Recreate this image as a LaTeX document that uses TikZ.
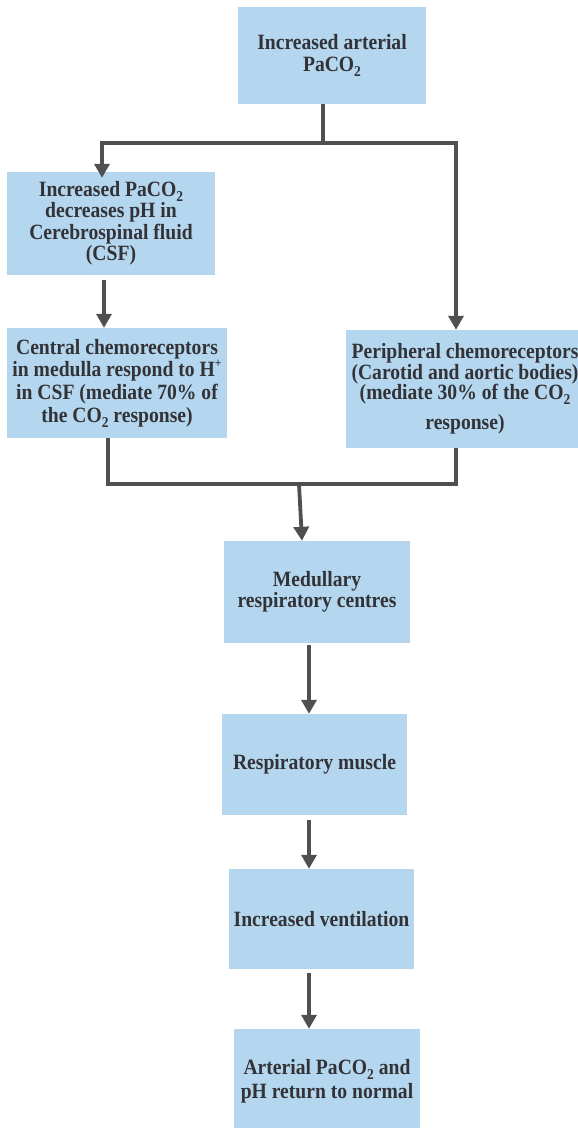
\documentclass[tikz,border=0pt]{standalone}
\usepackage{fontspec}
\setmainfont[FakeStretch=0.9]{Liberation Serif}
\usetikzlibrary{arrows.meta}
\definecolor{boxblue}{RGB}{180,215,239}
\definecolor{linegray}{RGB}{80,80,80}
\definecolor{txtgray}{RGB}{50,50,55}
\newcommand{\mysub}[1]{\raisebox{-5pt}{\fontsize{15}{15}\selectfont #1}}
\newcommand{\mysup}[1]{\raisebox{9pt}{\fontsize{13}{13}\selectfont #1}}
\begin{document}
\begin{tikzpicture}[x=1pt,y=-1pt,
  box/.style={fill=boxblue, inner sep=0pt, align=center, text=txtgray,
    font=\bfseries\fontsize{21.8}{21.5}\selectfont},
  conn/.style={draw=linegray, line width=3.8pt},
  arr/.style={conn, -{Triangle[length=14pt,width=15pt]}}]
\useasboundingbox (0,0) rectangle (578,1128);
\begin{scope}
\clip (0,0) rectangle (578,1128);
\node[box, minimum width=188pt, minimum height=97pt] (b1) at (332,55.5) {Increased arterial\\PaCO\mysub{2}};
\node[box, minimum width=208pt, minimum height=103pt] (b2) at (111,223.5) {Increased PaCO\mysub{2}\\decreases pH in\\Cerebrospinal fluid\\(CSF)};
\node[box, minimum width=220pt, minimum height=110pt,
  font=\bfseries\fontsize{21.8}{22.7}\selectfont] (b3) at (117,383) {Central chemoreceptors\\in medulla respond to H\mysup{+}\\in CSF (mediate 70\% of\\the CO\mysub{2} response)};
\node[box, minimum width=238pt, minimum height=118pt,
  font=\bfseries\fontsize{21.8}{20.5}\selectfont] (b4) at (465,389) {Peripheral chemoreceptors\\(Carotid and aortic bodies)\\(mediate 30\% of the CO\mysub{2}\\[9pt]response)};
\node[box, minimum width=186pt, minimum height=102pt] (b5) at (317,592) {Medullary\\respiratory centres};
\node[box, minimum width=185pt, minimum height=101pt] (b6) at (314.5,764.5) {Respiratory muscle};
\node[box, minimum width=185pt, minimum height=100pt] (b7) at (321.5,919) {Increased ventilation};
\node[box, minimum width=186pt, minimum height=104pt,
  font=\bfseries\fontsize{21.8}{24}\selectfont] (b8) at (327,1081) {Arterial PaCO\mysub{2} and\\pH return to normal};

\coordinate (t) at (323,143);
\coordinate (m) at (299,484);
\draw[conn] (b1.south -| t) -- (t);
\draw[arr] (t) -| ([xshift=-9pt,yshift=-6pt]b2.north);
\draw[arr] (t) -| ([xshift=-9pt]b4.north);
\draw[arr] ([xshift=-7pt,yshift=-5pt]b2.south) -- ([xshift=-7pt]b2.south |- b3.north);
\draw[conn] ([xshift=-9pt]b3.south) |- ([xshift=-9pt]b4.south |- m) -- ([xshift=-9pt]b4.south);
\draw[arr] (m) -- ([xshift=-15pt]b5.north);
\draw[arr] ([xshift=-8pt,yshift=-2pt]b5.south) -- ([xshift=-8pt]b5.south |- b6.north);
\draw[arr] ([xshift=-5.5pt,yshift=-5pt]b6.south) -- ([xshift=-5.5pt]b6.south |- b7.north);
\draw[arr] ([xshift=-12.5pt,yshift=-4pt]b7.south) -- ([xshift=-12.5pt]b7.south |- b8.north);
\end{scope}
\end{tikzpicture}
\end{document}
